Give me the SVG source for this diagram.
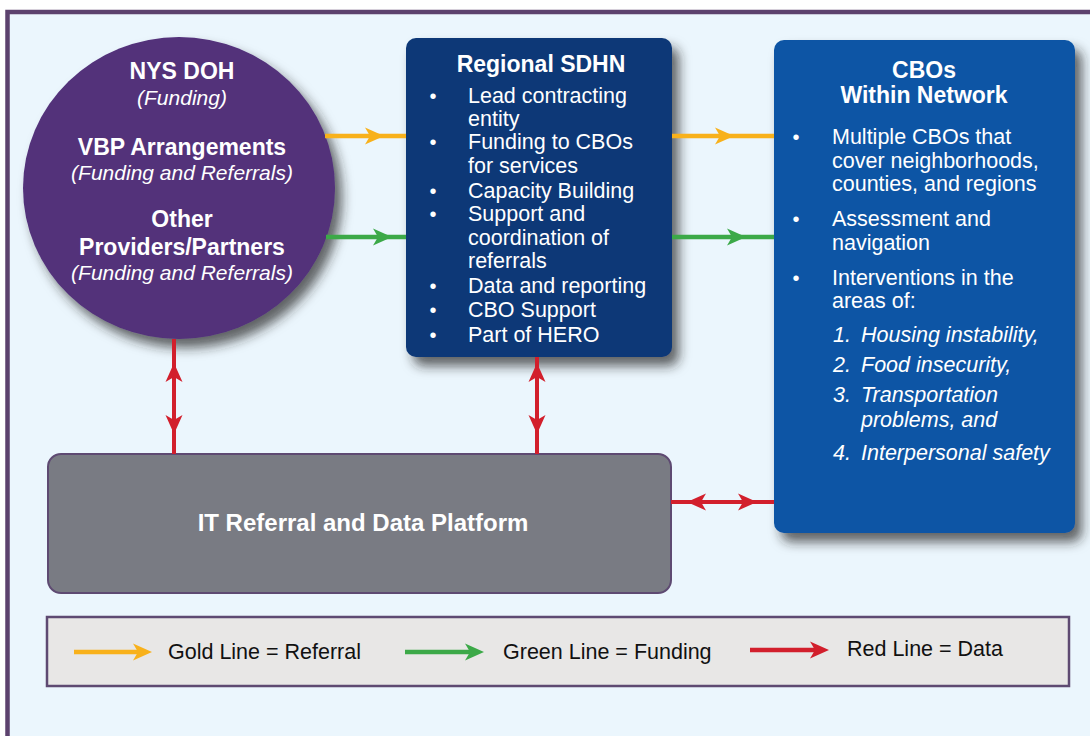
<svg xmlns="http://www.w3.org/2000/svg" xmlns:xlink="http://www.w3.org/1999/xlink" width="1090" height="736" viewBox="0 0 1090 736">
<defs>
<style>
.t{font-family:"Liberation Sans",Arial,sans-serif;fill:#fff}
.b{font-weight:bold;font-size:23px}
.i{font-style:italic;font-size:21px}
.r{font-size:21.5px}
.ri{font-size:21.5px;font-style:italic}
.bul{font-size:20px}
.lg{font-family:"Liberation Sans",Arial,sans-serif;font-size:21.5px;fill:#111}
.gold{stroke:#f8b11b;stroke-width:4.5;fill:none}
.green{stroke:#3ca948;stroke-width:4.5;fill:none}
.red{stroke:#d21f2c;stroke-width:4;fill:none}
</style>
<filter id="sh" x="-20%" y="-20%" width="150%" height="150%">
<feDropShadow dx="7" dy="9" stdDeviation="6" flood-color="#222" flood-opacity="0.7"/>
</filter>
<path id="ah" d="M0,0 L-19,-8.5 L-14,0 L-19,8.5 Z"/>
</defs>
<rect x="0" y="0" width="1090" height="736" fill="#ffffff"/>
<rect x="7.5" y="12" width="1120" height="800" fill="#ebf6fd" stroke="#5c426e" stroke-width="4.5"/>

<g id="node-funders">
<ellipse cx="179" cy="188" rx="156" ry="151" fill="#52317a" filter="url(#sh)"/>
<g class="t" text-anchor="middle">
<text x="182" y="79" class="b">NYS DOH</text>
<text x="182" y="105" class="i">(Funding)</text>
<text x="182" y="155" class="b">VBP Arrangements</text>
<text x="182" y="180" class="i">(Funding and Referrals)</text>
<text x="182" y="227" class="b">Other</text>
<text x="182" y="255" class="b">Providers/Partners</text>
<text x="182" y="280" class="i">(Funding and Referrals)</text>
</g>
</g>

<g id="node-sdhn">
<rect x="406" y="38" width="266" height="319" rx="10" fill="#0c3877" filter="url(#sh)"/>
<g class="t">
<text x="541" y="72" class="b" text-anchor="middle">Regional SDHN</text>
<g class="bul" text-anchor="middle">
<text x="433" y="103">•</text>
<text x="433" y="149">•</text>
<text x="433" y="198">•</text>
<text x="433" y="221">•</text>
<text x="433" y="293">•</text>
<text x="433" y="317">•</text>
<text x="433" y="342">•</text>
</g>
<g class="r">
<text x="468" y="103">Lead contracting</text>
<text x="468" y="126">entity</text>
<text x="468" y="149">Funding to CBOs</text>
<text x="468" y="173">for services</text>
<text x="468" y="198">Capacity Building</text>
<text x="468" y="221">Support and</text>
<text x="468" y="245">coordination of</text>
<text x="468" y="268">referrals</text>
<text x="468" y="293">Data and reporting</text>
<text x="468" y="317">CBO Support</text>
<text x="468" y="342">Part of HERO</text>
</g>
</g>
</g>

<g id="node-cbos">
<rect x="774" y="40" width="301" height="493" rx="10" fill="#0a55a5" filter="url(#sh)"/>
<g class="t">
<text x="924" y="78" class="b" text-anchor="middle">CBOs</text>
<text x="924" y="103" class="b" text-anchor="middle">Within Network</text>
<g class="bul" text-anchor="middle">
<text x="796" y="144">•</text>
<text x="796" y="226">•</text>
<text x="796" y="285">•</text>
</g>
<g class="r">
<text x="832" y="144">Multiple CBOs that</text>
<text x="832" y="168">cover neighborhoods,</text>
<text x="832" y="191">counties, and regions</text>
<text x="832" y="226">Assessment and</text>
<text x="832" y="250">navigation</text>
<text x="832" y="285">Interventions in the</text>
<text x="832" y="308">areas of:</text>
</g>
<g class="ri">
<text x="833" y="342">1.</text>
<text x="861" y="342">Housing instability,</text>
<text x="833" y="372">2.</text>
<text x="861" y="372">Food insecurity,</text>
<text x="833" y="402">3.</text>
<text x="861" y="402">Transportation</text>
<text x="861" y="427">problems, and</text>
<text x="833" y="460">4.</text>
<text x="861" y="460">Interpersonal safety</text>
</g>
</g>
</g>

<g id="node-it">
<rect x="48" y="454" width="623" height="139" rx="13" fill="#797b83" stroke="#5e4a72" stroke-width="2"/>
<text x="363" y="531" class="t b" text-anchor="middle" style="font-size:24px">IT Referral and Data Platform</text>
</g>

<g id="connectors">
<line x1="325" y1="136" x2="406" y2="136" class="gold"/>
<use href="#ah" transform="translate(384,136)" fill="#f8b11b"/>
<line x1="672" y1="136" x2="774" y2="136" class="gold"/>
<use href="#ah" transform="translate(734,136)" fill="#f8b11b"/>
<line x1="326" y1="237" x2="406" y2="237" class="green"/>
<use href="#ah" transform="translate(392,237)" fill="#3ca948"/>
<line x1="672" y1="237" x2="774" y2="237" class="green"/>
<use href="#ah" transform="translate(746,237)" fill="#3ca948"/>
<line x1="174" y1="339" x2="174" y2="454" class="red"/>
<use href="#ah" transform="translate(174,363) rotate(-90)" fill="#d21f2c"/>
<use href="#ah" transform="translate(174,434) rotate(90)" fill="#d21f2c"/>
<line x1="537" y1="357" x2="537" y2="454" class="red"/>
<use href="#ah" transform="translate(537,363) rotate(-90)" fill="#d21f2c"/>
<use href="#ah" transform="translate(537,434) rotate(90)" fill="#d21f2c"/>
<line x1="671" y1="502" x2="774" y2="502" class="red"/>
<use href="#ah" transform="translate(687,502) rotate(180)" fill="#d21f2c"/>
<use href="#ah" transform="translate(757,502)" fill="#d21f2c"/>
</g>

<g id="legend">
<rect x="47" y="617" width="1022" height="69" fill="#e8e7e6" stroke="#5e4a72" stroke-width="2.5"/>
<line x1="74" y1="652" x2="140" y2="652" class="gold"/>
<use href="#ah" transform="translate(152,652)" fill="#f8b11b"/>
<text x="168" y="659" class="lg">Gold Line = Referral</text>
<line x1="405" y1="652" x2="472" y2="652" class="green"/>
<use href="#ah" transform="translate(484,652)" fill="#3ca948"/>
<text x="503" y="659" class="lg">Green Line = Funding</text>
<line x1="750" y1="650" x2="817" y2="650" class="red" style="stroke-width:4.5"/>
<use href="#ah" transform="translate(829,650)" fill="#d21f2c"/>
<text x="847" y="656" class="lg">Red Line = Data</text>
</g>
</svg>
